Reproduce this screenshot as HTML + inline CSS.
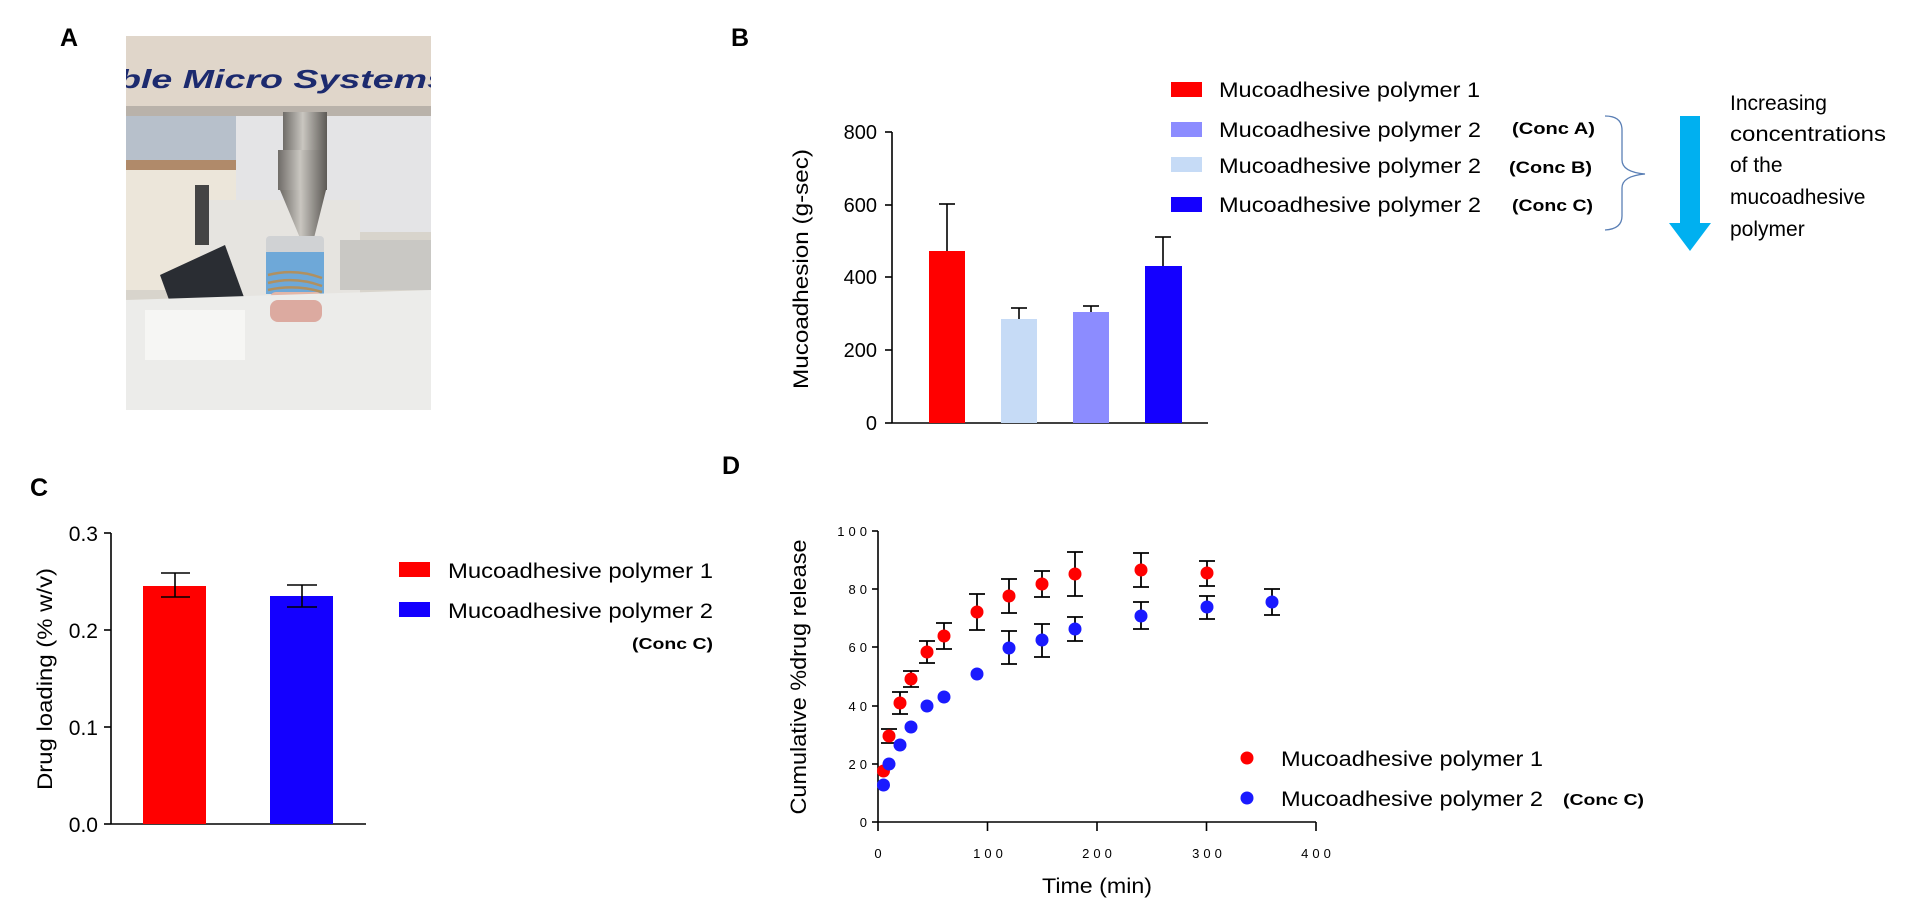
<!DOCTYPE html>
<html><head><meta charset="utf-8"><style>
html,body{margin:0;padding:0;background:#fff;}
svg{display:block;font-family:"Liberation Sans",Arial,sans-serif;}
.b{font-weight:bold;}
</style></head><body>
<svg width="1920" height="904" viewBox="0 0 1920 904" xmlns="http://www.w3.org/2000/svg">
<rect width="1920" height="904" fill="#fff"/>
<g class="b" font-size="25" fill="#000">
<text x="60" y="46">A</text><text x="731" y="46">B</text>
<text x="30" y="496">C</text><text x="722" y="474">D</text>
</g>
<defs><clipPath id="ph"><rect x="126" y="36" width="305" height="374"/></clipPath>
<linearGradient id="metal" x1="0" x2="1"><stop offset="0" stop-color="#6f6c68"/><stop offset=".45" stop-color="#c9c6c0"/><stop offset="1" stop-color="#5d5a56"/></linearGradient></defs>
<g clip-path="url(#ph)">
<rect x="126" y="36" width="305" height="374" fill="#d8d4cc"/>
<rect x="126" y="112" width="110" height="50" fill="#b7c0cb"/>
<rect x="236" y="112" width="195" height="120" fill="#e4e4e6"/>
<rect x="126" y="160" width="110" height="10" fill="#b08a6a"/>
<rect x="126" y="170" width="110" height="120" fill="#ece6da"/>
<rect x="200" y="200" width="160" height="110" fill="#e6e4e0"/>
<rect x="195" y="185" width="14" height="60" fill="#444"/>
<polygon points="160,275 225,245 245,300 180,330" fill="#2a2d33"/>
<rect x="340" y="240" width="91" height="50" fill="#c9c8c4"/>
<rect x="126" y="36" width="305" height="72" fill="#e0d6ca"/>
<text x="118" y="88" font-size="26" font-style="italic" font-weight="bold" fill="#1c2a6e" textLength="330" lengthAdjust="spacingAndGlyphs">ble Micro Systems</text>
<rect x="126" y="106" width="305" height="10" fill="#b9b2aa"/>
<rect x="283" y="112" width="44" height="40" fill="url(#metal)"/>
<rect x="278" y="150" width="49" height="40" fill="url(#metal)"/>
<polygon points="280,190 326,190 314,238 300,238" fill="url(#metal)"/>
<rect x="266" y="236" width="58" height="20" rx="4" fill="#d0d2d4"/>
<rect x="266" y="252" width="58" height="42" fill="#6ea8d8"/>
<path d="M268 275 Q295 268 322 278 M268 283 Q295 276 322 286 M268 290 Q295 284 322 292" stroke="#b09060" stroke-width="2.5" fill="none"/>
<rect x="270" y="292" width="52" height="22" rx="6" fill="#e2b6a8"/>
<polygon points="126,300 431,290 431,410 126,410" fill="#ececea"/>
<rect x="145" y="310" width="100" height="50" fill="#f6f6f4"/>
<rect x="270" y="300" width="52" height="22" rx="8" fill="#dcaaa0"/>
</g>
<g stroke="#000" stroke-width="1.6" fill="none">
<line x1="892" y1="132" x2="892" y2="423"/><line x1="892" y1="423" x2="1208" y2="423"/>
<line x1="885" y1="132" x2="892" y2="132"/><line x1="885" y1="205" x2="892" y2="205"/>
<line x1="885" y1="277" x2="892" y2="277"/><line x1="885" y1="350" x2="892" y2="350"/><line x1="885" y1="423" x2="892" y2="423"/>
</g>
<g font-size="20" text-anchor="end" fill="#000">
<text x="877" y="139">800</text><text x="877" y="212">600</text><text x="877" y="284">400</text><text x="877" y="357">200</text><text x="877" y="430">0</text>
</g>
<text transform="translate(808,269) rotate(-90)" text-anchor="middle" font-size="21" textLength="240" lengthAdjust="spacingAndGlyphs">Mucoadhesion (g-sec)</text>
<rect x="929" y="251" width="36" height="172" fill="#ff0000"/>
<rect x="1001" y="319" width="36" height="104" fill="#c6dbf6"/>
<rect x="1073" y="312" width="36" height="111" fill="#8c8cff"/>
<rect x="1145" y="266" width="37" height="157" fill="#1400ff"/>
<g stroke="#000" stroke-width="1.6">
<line x1="947" y1="251" x2="947" y2="204"/><line x1="939" y1="204" x2="955" y2="204"/>
<line x1="1019" y1="319" x2="1019" y2="308"/><line x1="1011" y1="308" x2="1027" y2="308"/>
<line x1="1091" y1="312" x2="1091" y2="306"/><line x1="1083" y1="306" x2="1099" y2="306"/>
<line x1="1163" y1="266" x2="1163" y2="237"/><line x1="1155" y1="237" x2="1171" y2="237"/>
</g>
<rect x="1171" y="82" width="31" height="15" fill="#ff0000"/>
<rect x="1171" y="122" width="31" height="15" fill="#8c8cff"/>
<rect x="1171" y="157" width="31" height="15" fill="#c6dbf6"/>
<rect x="1171" y="197" width="31" height="15" fill="#1400ff"/>
<g font-size="21" fill="#000">
<text x="1219" y="97" textLength="261" lengthAdjust="spacingAndGlyphs">Mucoadhesive polymer 1</text>
<text x="1219" y="137" textLength="262" lengthAdjust="spacingAndGlyphs">Mucoadhesive polymer 2</text>
<text x="1219" y="173" textLength="262" lengthAdjust="spacingAndGlyphs">Mucoadhesive polymer 2</text>
<text x="1219" y="212" textLength="262" lengthAdjust="spacingAndGlyphs">Mucoadhesive polymer 2</text>
</g>
<g font-size="17" class="b" fill="#000">
<text x="1512" y="134" textLength="83" lengthAdjust="spacingAndGlyphs">(Conc A)</text>
<text x="1509" y="173" textLength="83" lengthAdjust="spacingAndGlyphs">(Conc B)</text>
<text x="1512" y="211" textLength="81" lengthAdjust="spacingAndGlyphs">(Conc C)</text>
</g>
<path d="M1605 116 Q1622 116 1622 130 L1622 160 Q1622 172 1645 174 Q1622 176 1622 188 L1622 216 Q1622 229 1605 230" stroke="#5a7fb5" stroke-width="1.3" fill="none"/>
<polygon points="1680,116 1700,116 1700,223 1711,223 1690,251 1669,223 1680,223" fill="#00b0f0"/>
<g font-size="21" fill="#000">
<text x="1730" y="110">Increasing</text>
<text x="1730" y="141" textLength="156" lengthAdjust="spacingAndGlyphs">concentrations</text>
<text x="1730" y="172">of the</text>
<text x="1730" y="204">mucoadhesive</text>
<text x="1730" y="236">polymer</text>
</g>
<g stroke="#000" stroke-width="1.6" fill="none">
<line x1="111" y1="533" x2="111" y2="824"/><line x1="111" y1="824" x2="366" y2="824"/>
<line x1="104" y1="533" x2="111" y2="533"/><line x1="104" y1="630" x2="111" y2="630"/>
<line x1="104" y1="727" x2="111" y2="727"/><line x1="104" y1="824" x2="111" y2="824"/>
</g>
<g font-size="21" text-anchor="end" fill="#000">
<text x="98" y="541">0.3</text><text x="98" y="638">0.2</text><text x="98" y="735">0.1</text><text x="98" y="832">0.0</text>
</g>
<text transform="translate(52,679) rotate(-90)" text-anchor="middle" font-size="21" textLength="222" lengthAdjust="spacingAndGlyphs">Drug loading (% w/v)</text>
<rect x="143" y="586" width="63" height="238" fill="#ff0000"/>
<rect x="270" y="596" width="63" height="228" fill="#1400ff"/>
<g stroke="#000" stroke-width="1.6">
<line x1="175" y1="573" x2="175" y2="597"/><line x1="161" y1="573" x2="190" y2="573"/><line x1="161" y1="597" x2="190" y2="597"/>
<line x1="302" y1="585" x2="302" y2="607"/><line x1="287" y1="585" x2="317" y2="585"/><line x1="287" y1="607" x2="317" y2="607"/>
</g>
<rect x="399" y="562" width="31" height="15" fill="#ff0000"/>
<rect x="399" y="602" width="31" height="15" fill="#1400ff"/>
<g font-size="21" fill="#000">
<text x="448" y="578" textLength="265" lengthAdjust="spacingAndGlyphs">Mucoadhesive polymer 1</text>
<text x="448" y="618" textLength="265" lengthAdjust="spacingAndGlyphs">Mucoadhesive polymer 2</text>
</g>
<text x="632" y="649" font-size="16" class="b" textLength="81" lengthAdjust="spacingAndGlyphs">(Conc C)</text>
<g stroke="#000" stroke-width="1.6" fill="none">
<line x1="878" y1="531" x2="878" y2="822"/><line x1="878" y1="822" x2="1316" y2="822"/>
<line x1="872" y1="531" x2="878" y2="531"/><line x1="872" y1="589" x2="878" y2="589"/><line x1="872" y1="647" x2="878" y2="647"/>
<line x1="872" y1="706" x2="878" y2="706"/><line x1="872" y1="764" x2="878" y2="764"/><line x1="872" y1="822" x2="878" y2="822"/>
<line x1="878" y1="822" x2="878" y2="831"/><line x1="987.5" y1="822" x2="987.5" y2="831"/><line x1="1097" y1="822" x2="1097" y2="831"/>
<line x1="1206.5" y1="822" x2="1206.5" y2="831"/><line x1="1316" y1="822" x2="1316" y2="831"/>
</g>
<g font-size="13" text-anchor="end" fill="#000" letter-spacing="4">
<text x="871" y="536">100</text><text x="871" y="594">80</text><text x="871" y="652">60</text><text x="871" y="711">40</text><text x="871" y="769">20</text><text x="871" y="827">0</text>
</g>
<g font-size="13" text-anchor="middle" fill="#000" letter-spacing="4">
<text x="880" y="858">0</text><text x="990" y="858">100</text><text x="1099" y="858">200</text><text x="1209" y="858">300</text><text x="1318" y="858">400</text>
</g>
<text x="1097" y="893" text-anchor="middle" font-size="21" textLength="110" lengthAdjust="spacingAndGlyphs">Time (min)</text>
<text transform="translate(806,677) rotate(-90)" text-anchor="middle" font-size="22" textLength="275" lengthAdjust="spacingAndGlyphs">Cumulative %drug release</text>
<g stroke="#000" stroke-width="1.8" fill="none">
<path d="M889 729 V743 M881 729 H897 M881 743 H897"/>
<path d="M900 692 V714 M892 692 H908 M892 714 H908"/>
<path d="M911 671 V687 M903 671 H919 M903 687 H919"/>
<path d="M927 641 V663 M919 641 H935 M919 663 H935"/>
<path d="M944 623 V649 M936 623 H952 M936 649 H952"/>
<path d="M977 594 V630 M969 594 H985 M969 630 H985"/>
<path d="M1009 579 V613 M1001 579 H1017 M1001 613 H1017"/>
<path d="M1042 571 V597 M1034 571 H1050 M1034 597 H1050"/>
<path d="M1075 552 V596 M1067 552 H1083 M1067 596 H1083"/>
<path d="M1141 553 V587 M1133 553 H1149 M1133 587 H1149"/>
<path d="M1207 561 V586 M1199 561 H1215 M1199 586 H1215"/>
<path d="M1009 631 V664 M1001 631 H1017 M1001 664 H1017"/>
<path d="M1042 624 V657 M1034 624 H1050 M1034 657 H1050"/>
<path d="M1075 617 V641 M1067 617 H1083 M1067 641 H1083"/>
<path d="M1141 602 V629 M1133 602 H1149 M1133 629 H1149"/>
<path d="M1207 596 V619 M1199 596 H1215 M1199 619 H1215"/>
<path d="M1272 589 V615 M1264 589 H1280 M1264 615 H1280"/>
</g>
<g fill="#ff0000">
<circle cx="883.5" cy="771" r="6.5"/><circle cx="889" cy="736" r="6.5"/><circle cx="900" cy="703" r="6.5"/>
<circle cx="911" cy="679" r="6.5"/><circle cx="927" cy="652" r="6.5"/><circle cx="944" cy="636" r="6.5"/>
<circle cx="977" cy="612" r="6.5"/><circle cx="1009" cy="596" r="6.5"/><circle cx="1042" cy="584" r="6.5"/>
<circle cx="1075" cy="574" r="6.5"/><circle cx="1141" cy="570" r="6.5"/><circle cx="1207" cy="573" r="6.5"/>
<circle cx="1247" cy="758" r="6.5"/>
</g>
<g fill="#1a1aff">
<circle cx="883.5" cy="785" r="6.5"/><circle cx="889" cy="764" r="6.5"/><circle cx="900" cy="745" r="6.5"/>
<circle cx="911" cy="727" r="6.5"/><circle cx="927" cy="706" r="6.5"/><circle cx="944" cy="697" r="6.5"/>
<circle cx="977" cy="674" r="6.5"/><circle cx="1009" cy="648" r="6.5"/><circle cx="1042" cy="640" r="6.5"/>
<circle cx="1075" cy="629" r="6.5"/><circle cx="1141" cy="616" r="6.5"/><circle cx="1207" cy="607" r="6.5"/>
<circle cx="1272" cy="602" r="6.5"/><circle cx="1247" cy="798" r="6.5"/>
</g>
<g font-size="21" fill="#000">
<text x="1281" y="766" textLength="262" lengthAdjust="spacingAndGlyphs">Mucoadhesive polymer 1</text>
<text x="1281" y="806" textLength="262" lengthAdjust="spacingAndGlyphs">Mucoadhesive polymer 2</text>
</g>
<text x="1563" y="805" font-size="16" class="b" textLength="81" lengthAdjust="spacingAndGlyphs">(Conc C)</text>
</svg>
</body></html>
